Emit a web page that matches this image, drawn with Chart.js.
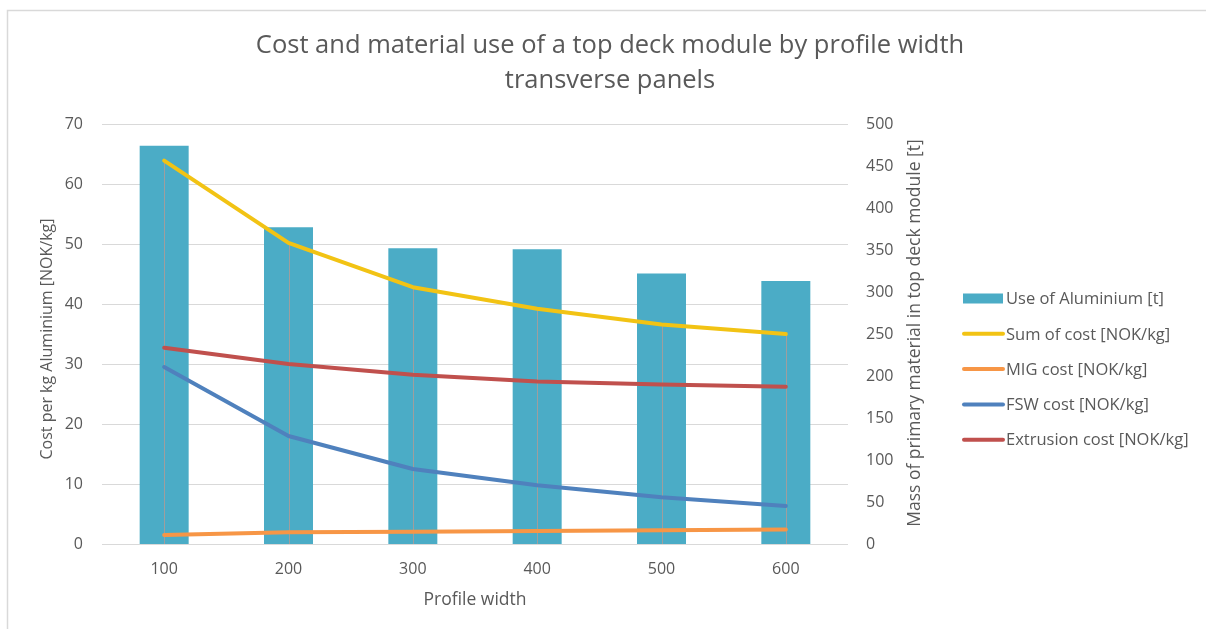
<!DOCTYPE html>
<html>
<head>
<meta charset="utf-8">
<title>Cost and material use of a top deck module by profile width</title>
<script src="https://cdn.jsdelivr.net/npm/chart.js@4.4.1/dist/chart.umd.min.js"></script>
<style>
  html, body { margin: 0; padding: 0; background: #ffffff; }
  #wrap { width: 1206px; height: 629px; position: relative; }
</style>
</head>
<body>
<div id="wrap"><canvas id="chart" width="1206" height="629"></canvas></div>
<script>
// Profile widths on the category axis
const profileWidths = ['100', '200', '300', '400', '500', '600'];

// Mass of aluminium used in the top deck module [t] (right axis)
const aluminiumUse = [474, 377, 352, 351, 322, 313];

// Cost components per kg aluminium [NOK/kg] (left axis)
const sumCost = [63.9, 50.2, 42.8, 39.2, 36.6, 35.0];
const migCost = [1.5, 1.95, 2.05, 2.15, 2.3, 2.4];
const fswCost = [29.5, 18.0, 12.5, 9.8, 7.8, 6.35];
const extrusionCost = [32.7, 30.0, 28.2, 27.1, 26.6, 26.2];

const titleLines = ['Cost and material use of a top deck module by profile width', 'transverse panels'];
const leftAxisTitle = 'Cost per kg Aluminium [NOK/kg]';
const rightAxisTitle = 'Mass of primary material in top deck module [t]';
const xAxisTitle = 'Profile width';

const FONT = '"Open Sans", "DejaVu Sans", sans-serif';
const TEXT = '#595959';
const GRID = '#d9d9d9';

// Chart frame, title, axis titles, drop lines and legend
const decorations = {
  id: 'decorations',
  beforeDraw(chart) {
    const ctx = chart.ctx;
    ctx.save();
    ctx.fillStyle = '#ffffff';
    ctx.fillRect(0, 0, chart.width, chart.height);
    ctx.restore();
  },
  afterDatasetDraw(chart, args) {
    // grey drop lines from the sum-of-cost points down to the category axis
    if (args.index !== 0) return;
    const meta = chart.getDatasetMeta(1);
    const yScale = chart.scales.y;
    const ctx = chart.ctx;
    ctx.save();
    ctx.strokeStyle = '#9e9e9e';
    ctx.lineWidth = 1;
    meta.data.forEach(pt => {
      const x = Math.round(pt.x) + 0.5;
      ctx.beginPath();
      ctx.moveTo(x, pt.y);
      ctx.lineTo(x, yScale.getPixelForValue(0));
      ctx.stroke();
    });
    ctx.restore();
  },
  afterDraw(chart) {
    const ctx = chart.ctx;
    const area = chart.chartArea;
    ctx.save();

    // frame
    ctx.strokeStyle = GRID;
    ctx.lineWidth = 1.5;
    ctx.beginPath();
    ctx.moveTo(7.5, chart.height);
    ctx.lineTo(7.5, 10.5);
    ctx.lineTo(chart.width, 10.5);
    ctx.stroke();

    // title
    ctx.fillStyle = TEXT;
    ctx.textAlign = 'center';
    ctx.textBaseline = 'middle';
    ctx.font = '25.5px ' + FONT;
    ctx.fillText(titleLines[0], 610, 46);
    ctx.fillText(titleLines[1], 610, 81);

    // axis titles
    const midY = (area.top + area.bottom) / 2;
    ctx.font = '16px ' + FONT;
    ctx.save();
    ctx.translate(47, midY + 5);
    ctx.rotate(-Math.PI / 2);
    ctx.fillText(leftAxisTitle, 0, 0);
    ctx.restore();
    ctx.font = '17.5px ' + FONT;
    ctx.save();
    ctx.translate(915, midY - 1);
    ctx.rotate(-Math.PI / 2);
    ctx.fillText(rightAxisTitle, 0, 0);
    ctx.restore();
    ctx.font = '17.5px ' + FONT;
    ctx.fillText(xAxisTitle, (area.left + area.right) / 2, 600);

    // legend
    ctx.font = '16.5px ' + FONT;
    ctx.textAlign = 'left';
    chart.data.datasets.forEach((ds, i) => {
      const y = 298.5 + i * 35.3;
      if (ds.type === 'bar') {
        ctx.fillStyle = ds.backgroundColor;
        ctx.fillRect(963, y - 5, 40, 10);
      } else {
        ctx.strokeStyle = ds.borderColor;
        ctx.lineWidth = 4;
        ctx.lineCap = 'round';
        ctx.beginPath();
        ctx.moveTo(964, y);
        ctx.lineTo(1003, y);
        ctx.stroke();
      }
      ctx.fillStyle = TEXT;
      ctx.fillText(ds.label, 1006, y + 1);
    });
    ctx.restore();
  }
};

const lineStyle = (label, data, color, order) => ({
  type: 'line',
  label,
  data,
  yAxisID: 'y',
  borderColor: color,
  backgroundColor: color,
  borderWidth: 4,
  borderCapStyle: 'round',
  borderJoinStyle: 'round',
  pointRadius: 0,
  pointHoverRadius: 0,
  tension: 0,
  fill: false,
  order
});

new Chart(document.getElementById('chart'), {
  data: {
    labels: profileWidths,
    datasets: [
      {
        type: 'bar',
        label: 'Use of Aluminium [t]',
        data: aluminiumUse,
        yAxisID: 'y1',
        backgroundColor: '#4bacc6',
        borderWidth: 0,
        categoryPercentage: 1,
        barPercentage: 0.394,
        order: 10
      },
      lineStyle('Sum of cost [NOK/kg]', sumCost, '#f2c314', 4),
      lineStyle('MIG cost [NOK/kg]', migCost, '#f79646', 3),
      lineStyle('FSW cost [NOK/kg]', fswCost, '#4f81bd', 2),
      lineStyle('Extrusion cost [NOK/kg]', extrusionCost, '#c0504d', 1)
    ]
  },
  options: {
    responsive: false,
    animation: false,
    layout: { padding: { top: 124, left: 0, right: 278, bottom: 0 } },
    plugins: {
      legend: { display: false },
      title: { display: false },
      tooltip: { enabled: false }
    },
    scales: {
      x: {
        grid: { display: false, drawTicks: false },
        border: { display: false },
        ticks: { color: TEXT, font: { family: FONT, size: 16 }, padding: 16, maxRotation: 0 },
        afterFit: s => { s.height = 85; }
      },
      y: {
        position: 'left',
        min: 0,
        max: 70,
        ticks: { stepSize: 10, color: TEXT, font: { family: FONT, size: 16 }, padding: 19 },
        grid: { color: GRID, lineWidth: 1, drawTicks: false },
        border: { display: false },
        afterFit: s => { s.width = 102; }
      },
      y1: {
        position: 'right',
        min: 0,
        max: 500,
        ticks: { stepSize: 50, color: TEXT, font: { family: FONT, size: 16 }, padding: 18 },
        grid: { display: false, drawTicks: false },
        border: { display: false },
        afterFit: s => { s.width = 80; }
      }
    }
  },
  plugins: [decorations]
});
</script>
</body>
</html>
